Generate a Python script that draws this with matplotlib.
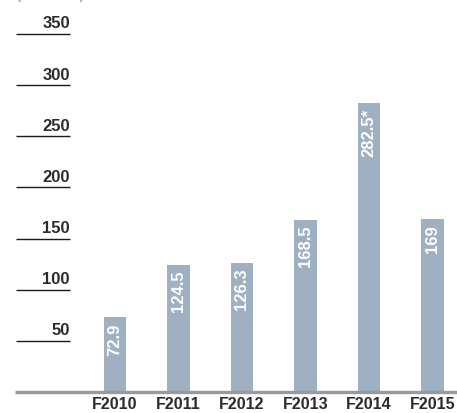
import matplotlib
matplotlib.use("Agg")
import matplotlib.pyplot as plt

plt.rcParams['font.family'] = ['Liberation Sans', 'DejaVu Sans']

categories = ["F2010", "F2011", "F2012", "F2013", "F2014", "F2015"]
values = [72.9, 124.5, 126.3, 168.5, 282.5, 169]
bar_labels = ["72.9", "124.5", "126.3", "168.5", "282.5*", "169"]
yticks = [50, 100, 150, 200, 250, 300, 350]
unit_label = "(R million)"

W, H = 457, 413
fig = plt.figure(figsize=(W / 100, H / 100), dpi=100)
ax = fig.add_axes([0, 0, 1, 1])
ax.set_xlim(-1.811, 5.386)
ax.set_ylim(-20.5, 383.2)
ax.axis("off")

px_y = 350 / 358.0   # data units per pixel vertical
px_x = 1 / 63.5      # data units per pixel horizontal

bar_color = "#9eb0c1"
text_color = "#2b2b2b"
x = list(range(len(categories)))
ax.bar(x, values, width=0.36, color=bar_color, zorder=2)

# baseline
ax.plot([(15 - 115) * px_x, 5.386], [0, 0], color="#9a9a9a", lw=2.4, zorder=3,
        solid_capstyle="butt")

# y tick lines and labels
x0 = (16 - 115) * px_x
x1 = (70 - 115) * px_x
for t in yticks:
    ax.plot([x0, x1], [t, t], color="#1a1a1a", lw=1.0, solid_capstyle="butt")
    ax.text(x1, t + 2.5 * px_y, str(t), ha="right", va="bottom", fontsize=12,
            fontweight="bold", color=text_color)

# x labels
for xi, c in zip(x, categories):
    ax.text(xi, -12 * px_y, c, ha="center", va="center", fontsize=11.5,
            fontweight="bold", color=text_color)

# value labels inside bars
for xi, v, lab in zip(x, values, bar_labels):
    ax.text(xi, v - 6 * px_y, lab, ha="center", va="top", rotation=90,
            fontsize=12, fontweight="bold", color="white", zorder=4)

# unit label, cut off at the top edge as in the reference
fig.text(0.035, 1.0 + 1.5 / H, unit_label, ha="left", va="baseline",
         fontsize=11, color="#888888")

fig.savefig("out.png", dpi=100)
